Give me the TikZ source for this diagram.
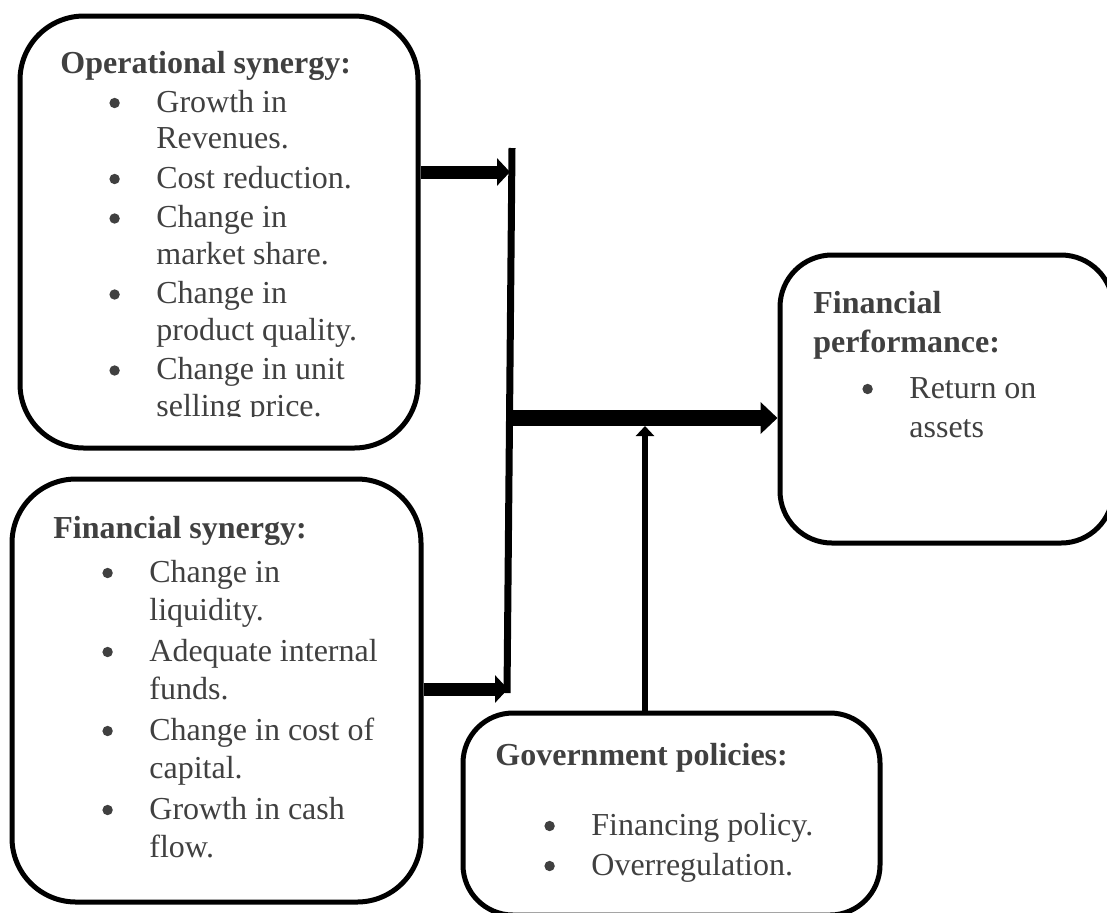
\documentclass[tikz,border=0pt]{standalone}
\usepackage{fontspec}
\setmainfont{Liberation Serif}
\usetikzlibrary{arrows.meta}
\definecolor{ink}{HTML}{404040}
% one bulleted entry, hanging under its own text
\newcommand{\dotmark}{\tikz[baseline=0pt]\fill[ink] (2.6pt,4.5pt) circle (2.6pt);}
\newcommand{\pitem}[1]{\par\leftskip=48pt\noindent\llap{\makebox[23.5pt][l]{\dotmark}}#1\par\vspace{1.5pt}}

\begin{document}
\begin{tikzpicture}[x=0.5pt,y=-0.5pt,
		box/.style={draw,line width=2.5pt,rounded corners=#1,inner sep=0pt},
		box/.default=32pt,
		txt/.style={inner sep=0pt,anchor=base west,text=ink,font=\fontsize{16pt}{#1pt}\selectfont},
		feed/.style={line width=6.5pt,-{Triangle[length=6.5pt,width=13.5pt]}},
		mainflow/.style={line width=8pt,-{Triangle[length=8.5pt,width=15.5pt]}},
		policy/.style={line width=3pt,-{Triangle[length=5pt,width=9pt]}}]
			\useasboundingbox (0,0) rectangle (1107,912);
			
			% the four boxes
			\node[box,minimum width=199pt,minimum height=216pt] (op)at(219,232) {};
			\node[box,minimum width=204.5pt,minimum height=211.5pt] (fin)at(216.5,690.5) {};
			\node[box=26pt,minimum width=166.5pt,minimum height=144pt] (perf)at(946.5,399) {};
			\node[box=25pt,minimum width=208.5pt,minimum height=101pt] (gov)at(671.5,814) {};
			
			% box texts
			\begin{scope}
				\clip (0,0) rectangle (1107,416);
				\node[txt=18.25] (optext)at(60,73) {\begin{minipage}[t]{190pt}
					\textbf{Operational synergy:}\par\vspace{1.25pt}
					\pitem{Growth in\\Revenues.}
					\pitem{Cost reduction.}
					\pitem{Change in\\market share.}
					\pitem{Change in\\product quality.}
					\pitem{Change in unit\\selling price.}
				\end{minipage}};
			\end{scope}
			\node[txt=19] (fintext)at(53,538) {\begin{minipage}[t]{195pt}
				\textbf{Financial synergy:}\par\vspace{3pt}
				\pitem{Change in\\liquidity.}
				\pitem{Adequate internal\\funds.}
				\pitem{Change in cost of\\capital.}
				\pitem{Growth in cash\\flow.}
			\end{minipage}};
			\node[txt=19.5] (perftext)at(813,313) {\begin{minipage}[t]{140pt}
				\textbf{Financial\\performance:}\par\vspace{3.5pt}
				\pitem{Return on\\assets}
			\end{minipage}};
			\node[txt=18.5] (govtext)at(495,765) {\begin{minipage}[t]{190pt}
				\textbf{Government policies:}\par\vspace{16.5pt}
				\pitem{Financing policy.}
				\pitem{Overregulation.}
			\end{minipage}};
			
			% collecting bar and its joints
			\coordinate (bartop) at (512,148);
			\coordinate (barbot) at (507,693);
			\coordinate (join1) at (510,172);
			\coordinate (join2) at (508,689);
			\coordinate (barout) at (511,418);
			\coordinate (upend) at (645,426);
			
			\draw[line width=3.5pt] (bartop) -- (barbot);
			\draw[feed] (op.east |- join1) -- (join1);
			\draw[feed] (fin.east |- join2) -- (join2);
			\draw[mainflow] (barout) -- (barout -| perf.west);
			\draw[policy] (gov.north -| upend) -- (upend);
		\end{tikzpicture}
\end{document}
